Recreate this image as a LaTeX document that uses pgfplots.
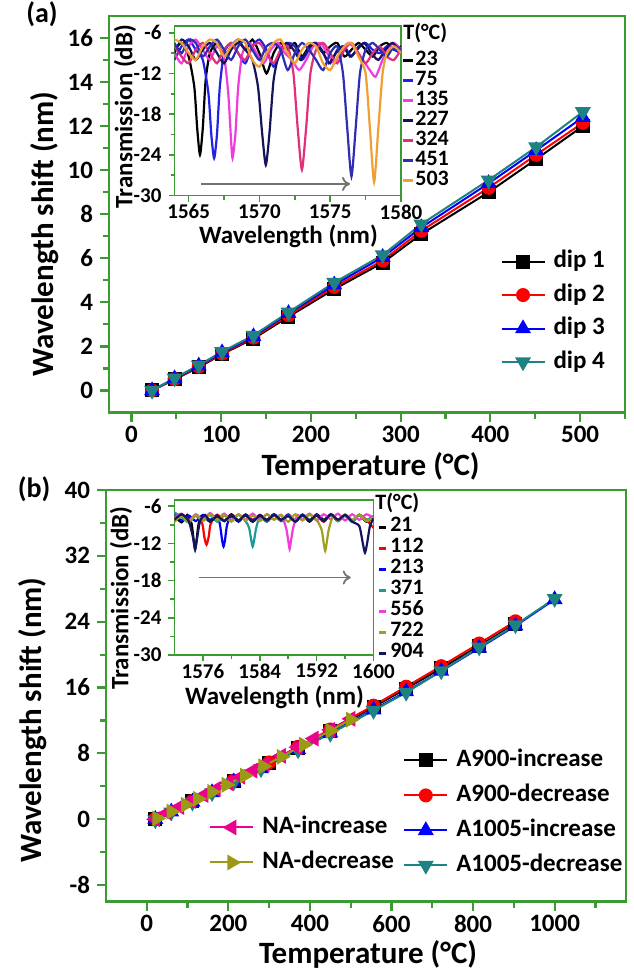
\documentclass[border=0pt]{standalone}
\usepackage{fontspec}
\setmainfont{Carlito}
\usepackage{pgfplots}
\pgfplotsset{compat=1.18}
\usetikzlibrary{arrows.meta}
\definecolor{frame}{HTML}{3C9A32}
\definecolor{dteal}{HTML}{1E8282}
\definecolor{dolive}{HTML}{9A9A14}
\definecolor{cblue}{HTML}{2222E6}
\definecolor{cmag}{HTML}{F03CDC}
\definecolor{cnavy}{HTML}{14145A}
\definecolor{ccrim}{HTML}{E0307A}
\definecolor{cblue2}{HTML}{2E2EB4}
\definecolor{corange}{HTML}{F0A032}
\definecolor{cteal}{HTML}{1E9A96}
\definecolor{colive}{HTML}{A0A020}

\pgfplotsset{
  mainax/.style={
    scale only axis, axis background/.style={fill=white},
    axis line style={draw=frame, line width=1.1bp},
    tick style={draw=frame, line width=1.1bp},
    tick align=outside, tick pos=left,
    major tick length=4.5bp, minor tick length=3bp,
    /pgf/number format/assume math mode=true,
    /pgf/number format/1000 sep={},
    tick label style={font=\fontsize{12.5bp}{14bp}\selectfont\bfseries},
    xticklabel style={yshift=1bp},
    label style={font=\fontsize{15.5bp}{17bp}\selectfont\bfseries},
    legend cell align=left,
    legend style={draw=none, fill=none, inner sep=0pt,
      font=\fontsize{12.5bp}{14bp}\selectfont\bfseries,
      nodes={inner sep=0pt, text height=9bp, text depth=3bp},
      /tikz/every odd column/.append style={column sep=4bp}},
    legend image code/.code={\draw[mark repeat=2,mark phase=2,#1]
      plot coordinates {(0bp,0bp)(10.75bp,0bp)(21.5bp,0bp)};},
  },
  insetax/.style={
    scale only axis, axis background/.style={fill=white},
    axis line style={draw=frame, line width=0.8bp},
    tick style={draw=frame, line width=0.8bp},
    tick align=outside, tick pos=left,
    major tick length=3bp, minor tick length=2bp,
    clip mode=individual,
    /pgf/number format/assume math mode=true,
    /pgf/number format/1000 sep={},
    tick label style={font=\fontsize{10.5bp}{12bp}\selectfont\bfseries},
    xticklabel style={yshift=2bp},
    label style={font=\fontsize{12.5bp}{14bp}\selectfont\bfseries},
    legend cell align=left,
    legend style={draw=none, fill=none, inner sep=0pt,
      font=\fontsize{11bp}{12bp}\selectfont\bfseries},
    every axis plot/.append style={line width=1.1bp, smooth, tension=0.4},
  },
  s1/.style={black, line width=1bp, mark=square*, mark size=3bp, mark options={solid, fill=black}},
  s2/.style={red, line width=1bp, mark=*, mark size=3bp, mark options={solid, fill=red}},
  s3/.style={blue, line width=1bp, mark=triangle*, mark size=3.6bp, mark options={solid, fill=blue}},
  s4/.style={dteal, line width=1bp, mark=triangle*, mark size=3.6bp, mark options={solid, fill=dteal, rotate=180}},
  s5/.style={magenta, line width=1bp, mark=triangle*, mark size=3.6bp, mark options={solid, fill=magenta, rotate=90}},
  s6/.style={dolive, line width=1bp, mark=triangle*, mark size=3.6bp, mark options={solid, fill=dolive, rotate=-90}},
}

\begin{document}
\begin{tikzpicture}
\useasboundingbox (0,0) rectangle (317bp,-485.5bp);

% ---------------- panel (a)
\begin{axis}[mainax, at={(54.5bp,-206.25bp)}, anchor=south west,
  width=258bp, height=198.25bp,
  xmin=-25, xmax=550, ymin=-1, ymax=17,
  xtick={0,100,...,500}, minor xtick={50,150,...,550},
  ytick={0,2,...,16}, minor ytick={1,3,...,15},
  xlabel={Temperature (°C)}, ylabel={Wavelength shift (nm)},
  xlabel style={at={(axis description cs:0.507,-0.137)}, anchor=center},
  ylabel style={at={(axis description cs:-0.124,0.45)}, anchor=center},
  legend style={at={(0.758,0.412)}, anchor=north west, row sep=4.75bp}]
\addplot[s1] coordinates {(23,0) (48,0.5) (75,1.05) (101,1.65) (136,2.35) (175,3.35) (226,4.6) (280,5.8) (323,7.1) (398,9.0) (451,10.5) (503,12.0)};
\addplot[s2] coordinates {(23,0) (48,0.52) (75,1.08) (101,1.68) (136,2.4) (175,3.42) (226,4.7) (280,5.9) (323,7.25) (398,9.2) (451,10.7) (503,12.15)};
\addplot[s3] coordinates {(23,0) (48,0.54) (75,1.12) (101,1.72) (136,2.45) (175,3.5) (226,4.8) (280,6.05) (323,7.4) (398,9.4) (451,10.9) (503,12.4)};
\addplot[s4] coordinates {(23,0) (48,0.56) (75,1.15) (101,1.76) (136,2.5) (175,3.55) (226,4.9) (280,6.15) (323,7.55) (398,9.55) (451,11.05) (503,12.65)};
\legend{dip 1, dip 2, dip 3, dip 4}
\end{axis}

% inset (a)
\begin{axis}[insetax, at={(87.25bp,-97.75bp)}, anchor=south west,
  width=113.25bp, height=84.75bp,
  xmin=1564, xmax=1580, ymin=-30, ymax=-5,
  xtick={1565,1570,1575,1580}, minor xtick={1567.5,1572.5,1577.5},
  ytick={-30,-24,...,-6}, minor ytick={-27,-21,...,-9},
  xlabel={Wavelength (nm)}, ylabel={Transmission (dB)},
  xlabel style={at={(axis description cs:0.503,-0.238)}, anchor=center},
  ylabel style={at={(axis description cs:-0.2185,0.466)}, anchor=center},
  legend style={at={(1.0,0.858)}, anchor=north west,
    nodes={inner sep=0pt, text height=7.3bp, text depth=2.7bp},
    /tikz/every odd column/.append style={column sep=0.6bp}},
  legend image code/.code={\draw[#1, line width=1.4bp] (0bp,0bp) -- (5bp,0bp);}]
\addplot[black] coordinates {(1564.0,-8.5) (1564.5,-7.5) (1565.0,-9.5) (1565.4,-14) (1565.6,-20) (1565.8,-24) (1566.0,-20) (1566.2,-13) (1566.5,-9) (1567.0,-7.5) (1567.5,-9.5) (1568.0,-8) (1568.5,-7) (1569.0,-8.5) (1569.5,-7) (1570.0,-9) (1570.5,-12) (1571.0,-9) (1571.5,-7.5) (1572.0,-8.5) (1572.5,-7.5) (1573.0,-9.5) (1573.5,-8) (1574.0,-7.5) (1574.5,-9) (1575.0,-8) (1575.5,-7.5) (1576.0,-9.5) (1576.5,-8.5) (1577.0,-7.5) (1577.5,-8.5) (1578.0,-9.5) (1578.5,-8) (1579.0,-7.5) (1579.5,-8.5) (1580.0,-8)};
\addplot[cblue] coordinates {(1564.0,-10) (1564.5,-8) (1565.0,-7) (1565.5,-8.5) (1566.0,-10) (1566.4,-15) (1566.6,-21) (1566.8,-24.5) (1567.0,-21) (1567.2,-14) (1567.5,-9) (1568.0,-7.5) (1568.5,-9) (1569.0,-10.5) (1569.5,-8) (1570.0,-7) (1570.5,-8.5) (1571.0,-11) (1571.5,-9) (1572.0,-7.5) (1572.5,-8) (1573.0,-10) (1573.5,-8.5) (1574.0,-7.5) (1574.5,-9) (1575.0,-10.5) (1575.5,-8.5) (1576.0,-8) (1576.5,-9.5) (1577.0,-8) (1577.5,-7.5) (1578.0,-8.5) (1578.5,-9) (1579.0,-8) (1579.5,-8.5) (1580.0,-9)};
\addplot[cmag] coordinates {(1564.0,-9) (1564.5,-10.5) (1565.0,-8) (1565.5,-7) (1566.0,-8.5) (1566.5,-10) (1567.0,-8) (1567.5,-9.5) (1567.8,-15) (1568.0,-22) (1568.1,-24.5) (1568.3,-21) (1568.5,-14) (1568.8,-9) (1569.3,-7.5) (1569.8,-9) (1570.3,-10.5) (1570.8,-8.5) (1571.3,-7.5) (1571.8,-9) (1572.3,-10) (1572.8,-11.5) (1573.3,-10) (1573.8,-8) (1574.3,-7.5) (1574.8,-9) (1575.3,-10.5) (1575.8,-8.5) (1576.3,-7.5) (1576.8,-8.5) (1577.3,-10) (1577.8,-11.5) (1578.2,-12.5) (1578.6,-10.5) (1579.0,-8.5) (1579.5,-7.5) (1580.0,-8.5)};
\addplot[cnavy] coordinates {(1564.0,-9) (1564.5,-7) (1565.0,-8) (1565.5,-10) (1566.0,-8.5) (1566.5,-7.5) (1567.0,-9) (1567.5,-10.5) (1568.0,-8.5) (1568.5,-7.5) (1569.0,-8.5) (1569.5,-10) (1569.9,-14) (1570.2,-21) (1570.45,-25.5) (1570.7,-21) (1571.0,-13) (1571.4,-9) (1571.9,-7.5) (1572.4,-8.5) (1572.9,-10) (1573.4,-8.5) (1573.9,-7.5) (1574.4,-8.5) (1574.9,-10.5) (1575.4,-9) (1575.9,-8) (1576.4,-9.5) (1576.9,-8.5) (1577.4,-7.5) (1577.9,-9) (1578.4,-10) (1578.9,-8.5) (1579.4,-7.5) (1580.0,-9)};
\addplot[ccrim] coordinates {(1564.0,-8) (1564.5,-9.5) (1565.0,-10.5) (1565.5,-8.5) (1566.0,-7.5) (1566.5,-9) (1567.0,-10.5) (1567.5,-8.5) (1568.0,-7.5) (1568.5,-9) (1569.0,-10) (1569.5,-8) (1570.0,-7.5) (1570.5,-9) (1571.0,-10.5) (1571.5,-8.5) (1572.0,-8) (1572.4,-12) (1572.7,-20) (1573.0,-26.2) (1573.3,-20) (1573.6,-12) (1574.0,-8.5) (1574.5,-7.5) (1575.0,-9) (1575.5,-10.5) (1576.0,-8.5) (1576.5,-7.5) (1577.0,-9) (1577.5,-10.5) (1578.0,-9) (1578.5,-8) (1579.0,-9.5) (1579.5,-10) (1580.0,-8.5)};
\addplot[cblue2] coordinates {(1564.0,-7.5) (1564.5,-9) (1565.0,-7) (1565.5,-7.5) (1566.0,-9.5) (1566.5,-8) (1567.0,-7) (1567.5,-8.5) (1568.0,-10) (1568.5,-8) (1569.0,-7) (1569.5,-8.5) (1570.0,-10) (1570.5,-8) (1571.0,-7.5) (1571.5,-8.5) (1572.0,-11.5) (1572.5,-9) (1573.0,-7.5) (1573.5,-8.5) (1574.0,-10) (1574.5,-11.5) (1575.0,-9) (1575.5,-8) (1575.9,-12) (1576.2,-20) (1576.5,-27.2) (1576.8,-20) (1577.1,-12) (1577.5,-8.5) (1578.0,-7.5) (1578.5,-8.5) (1579.0,-9.5) (1579.5,-8) (1580.0,-8.5)};
\addplot[corange] coordinates {(1564.0,-7) (1564.5,-7.5) (1565.0,-9) (1565.5,-10) (1566.0,-8) (1566.5,-7) (1567.0,-7.5) (1567.5,-9.5) (1568.0,-8) (1568.5,-7) (1569.0,-7.5) (1569.5,-10) (1570.0,-11) (1570.5,-9) (1571.0,-7.5) (1571.5,-7) (1572.0,-9) (1572.5,-10.5) (1573.0,-8.5) (1573.5,-7.5) (1574.0,-8) (1574.5,-10.5) (1575.0,-11.5) (1575.5,-9.5) (1576.0,-8) (1576.5,-7.5) (1577.0,-9.5) (1577.5,-12) (1577.8,-20) (1578.1,-28) (1578.4,-20) (1578.7,-12) (1579.0,-9) (1579.5,-8) (1580.0,-9)};
\legend{23, 75, 135, 227, 324, 451, 503}
\draw[black!55, line width=0.9bp, -{To[length=4bp, width=7bp]}] (axis cs:1565.9,-28.3) -- (axis cs:1576.4,-28.3);
\node[anchor=west, inner sep=0pt, font=\fontsize{11bp}{12bp}\selectfont\bfseries] at (rel axis cs:1.009,0.959) {T(°C)};
\end{axis}

% ---------------- panel (b)
\begin{axis}[mainax, at={(53bp,-450.75bp)}, anchor=south west,
  width=260bp, height=205.75bp,
  xmin=-100, xmax=1175, ymin=-10, ymax=40,
  xtick={0,200,...,1000}, minor xtick={100,300,...,1100},
  ytick={-8,0,...,40}, minor ytick={-4,4,...,36},
  xlabel={Temperature (°C)}, ylabel={Wavelength shift (nm)},
  xlabel style={at={(axis description cs:0.504,-0.128)}, anchor=center},
  ylabel style={at={(axis description cs:-0.142,0.441)}, anchor=center},
  legend style={at={(0.571,0.373)}, anchor=north west, row sep=5.5bp}]
\addplot[s1] coordinates {(21,0) (112,2.16) (213,4.63) (300,6.8) (371,8.66) (450,10.75) (556,13.64) (636,15.87) (722,18.34) (815,21.07) (904,23.74)};
\addplot[s2] coordinates {(21,0.05) (112,2.2) (213,4.7) (300,6.9) (371,8.8) (450,10.9) (556,13.8) (636,16.1) (722,18.6) (815,21.35) (904,24.05)};
\addplot[s3] coordinates {(21,0) (60,0.9) (112,2.1) (160,3.25) (213,4.55) (280,6.15) (371,8.5) (450,10.5) (556,13.3) (636,15.5) (722,18.0) (815,20.8) (904,23.5) (1000,26.7)};
\addplot[s4] coordinates {(21,-0.1) (60,0.85) (112,2.05) (160,3.2) (213,4.5) (280,6.1) (371,8.4) (450,10.4) (556,13.2) (636,15.4) (722,18.0) (815,20.9) (904,23.6) (1000,26.8)};
\legend{A900-increase, A900-decrease, A1005-increase, A1005-decrease}
\end{axis}

\begin{axis}[mainax, hide axis, at={(53bp,-450.75bp)}, anchor=south west,
  width=260bp, height=205.75bp, axis background/.style={},
  xmin=-100, xmax=1175, ymin=-10, ymax=40,
  legend style={at={(0.198,0.21)}, anchor=north west, row sep=5.5bp}]
\addplot[s5] coordinates {(21,0) (50,0.78) (80,1.49) (110,2.22) (140,2.93) (170,3.67) (200,4.4) (230,5.15) (260,5.9) (290,6.67) (330,7.7) (370,8.74) (410,9.8) (450,10.85) (500,12.2)};
\addplot[s6] coordinates {(25,0.1) (60,0.92) (95,1.75) (125,2.47) (160,3.32) (195,4.18) (240,5.3) (285,6.43) (330,7.58) (385,9.05) (450,10.75) (500,12.1)};
\legend{NA-increase, NA-decrease}
\end{axis}

% inset (b)
\begin{axis}[insetax, at={(87.25bp,-327.5bp)}, anchor=south west,
  width=99.5bp, height=77.5bp,
  xmin=1572, xmax=1600, ymin=-30, ymax=-5,
  xtick={1576,1584,1592,1600}, minor xtick={1580,1588,1596},
  ytick={-30,-24,...,-6}, minor ytick={-27,-21,...,-9},
  xlabel={Wavelength (nm)}, ylabel={Transmission (dB)},
  xlabel style={at={(axis description cs:0.503,-0.275)}, anchor=center},
  ylabel style={at={(axis description cs:-0.269,0.368)}, anchor=center},
  legend style={at={(1.018,0.894)}, anchor=north west,
    nodes={inner sep=0pt, text height=7.5bp, text depth=3bp},
    /tikz/every odd column/.append style={column sep=1.5bp}},
  legend image code/.code={\draw[#1, line width=1.4bp] (0bp,0bp) -- (3.5bp,0bp);}]
\addplot[black] coordinates {(1572,-7.6) (1573,-8.6) (1573.8,-7.4) (1574.4,-8.8) (1574.7,-11.5) (1574.9,-12.9) (1575.1,-11.5) (1575.4,-8.8) (1576,-7.5) (1577,-8.5) (1578,-7.4) (1579,-8.4) (1580,-7.3) (1581,-8.3) (1582,-7.5) (1583,-8.5) (1584,-7.4) (1585,-8.2) (1586,-7.3) (1587,-8.4) (1588,-7.5) (1589,-8.3) (1590,-7.4) (1591,-8.5) (1592,-7.3) (1593,-8.2) (1594,-7.4) (1595,-8.4) (1596,-7.5) (1597,-8.3) (1598,-7.4) (1599,-8.5) (1600,-7.8)};
\addplot[red] coordinates {(1572,-8.2) (1573,-7.4) (1574,-8.5) (1575,-7.5) (1575.9,-8.8) (1576.2,-11) (1576.5,-12.2) (1576.8,-11) (1577.1,-8.8) (1578,-7.4) (1579,-8.3) (1580,-7.5) (1581,-8.4) (1582,-7.3) (1583,-8.2) (1584,-7.5) (1585,-8.5) (1586,-7.4) (1587,-8.3) (1588,-7.3) (1589,-8.4) (1590,-7.5) (1591,-8.2) (1592,-7.4) (1593,-8.5) (1594,-7.3) (1595,-8.3) (1596,-7.5) (1597,-8.4) (1598,-7.4) (1599,-8.2) (1600,-9.5)};
\addplot[blue] coordinates {(1572,-7.3) (1573,-8.3) (1574,-7.5) (1575,-8.4) (1576,-7.4) (1577,-8.2) (1578,-7.5) (1578.4,-9) (1578.7,-11.5) (1578.9,-12.5) (1579.1,-11.5) (1579.4,-9) (1580,-7.6) (1581,-8.5) (1582,-7.4) (1583,-8.3) (1584,-7.5) (1585,-8.4) (1586,-7.3) (1587,-8.2) (1588,-7.4) (1589,-8.5) (1590,-7.5) (1591,-8.3) (1592,-7.4) (1593,-8.4) (1594,-7.3) (1595,-8.2) (1596,-7.5) (1597,-8.5) (1598,-7.4) (1599,-8.3) (1600,-7.6)};
\addplot[cteal] coordinates {(1572,-7.0) (1573,-7.8) (1574,-8.6) (1575,-7.5) (1576,-8.3) (1577,-7.4) (1578,-8.5) (1579,-7.5) (1580,-8.2) (1581,-7.4) (1582,-8.4) (1582.5,-9.5) (1582.8,-11.5) (1583,-12.5) (1583.2,-11.5) (1583.5,-9.5) (1584,-7.8) (1585,-8.5) (1586,-7.4) (1587,-8.3) (1588,-7.5) (1589,-8.4) (1590,-7.3) (1591,-8.2) (1592,-7.5) (1593,-8.4) (1594,-7.4) (1595,-8.3) (1596,-7.5) (1597,-8.5) (1598,-7.4) (1599,-8.2) (1600,-7.6)};
\addplot[cmag] coordinates {(1572,-7.8) (1573,-7.2) (1574,-8.3) (1575,-7.3) (1576,-8.2) (1577,-7.1) (1578,-8.1) (1579,-7.2) (1580,-8.3) (1581,-7.3) (1582,-8.2) (1583,-7.2) (1584,-8.3) (1585,-7.3) (1586,-8.1) (1587,-7.4) (1587.7,-9.5) (1588,-11.5) (1588.2,-12.9) (1588.4,-11.5) (1588.7,-9.5) (1589.3,-7.4) (1590,-8.2) (1591,-7.2) (1592,-8.3) (1593,-7.3) (1594,-8.1) (1595,-7.2) (1596,-8.3) (1597,-7.3) (1598,-8.2) (1599,-7.3) (1600,-7.9)};
\addplot[colive] coordinates {(1572,-8.5) (1573,-7.6) (1574,-8.6) (1575,-7.4) (1576,-8.4) (1577,-7.3) (1578,-8.2) (1579,-7.4) (1580,-8.5) (1581,-7.3) (1582,-8.3) (1583,-7.5) (1584,-8.4) (1585,-7.3) (1586,-8.2) (1587,-7.4) (1588,-8.5) (1589,-7.3) (1590,-8.3) (1591,-7.4) (1592,-8.2) (1592.7,-9.8) (1593,-12) (1593.2,-13.2) (1593.4,-12) (1593.7,-9.8) (1594.3,-7.6) (1595,-8.4) (1596,-7.3) (1597,-8.2) (1598,-7.4) (1599,-8.4) (1600,-7.8)};
\addplot[cnavy] coordinates {(1572,-8.2) (1573,-7.3) (1574,-8.4) (1574.6,-11) (1574.9,-13) (1575.2,-11) (1575.6,-8.4) (1576.3,-7.4) (1577,-8.5) (1578,-7.6) (1579,-8.4) (1580,-7.5) (1581,-8.3) (1582,-7.4) (1583,-8.5) (1584,-7.5) (1585,-8.3) (1586,-7.4) (1587,-8.2) (1588,-7.6) (1589,-8.5) (1590,-7.4) (1591,-8.3) (1592,-7.5) (1593,-8.4) (1594,-7.3) (1595,-8.2) (1596,-7.4) (1597,-8.5) (1598,-9.2) (1598.5,-12) (1598.8,-13.5) (1599.1,-12) (1599.5,-9.2) (1600,-8)};
\legend{21, 112, 213, 371, 556, 722, 904}
\draw[black!55, line width=0.9bp, -{To[length=4bp, width=7bp]}] (axis cs:1575.5,-17.5) -- (axis cs:1596.8,-17.5);
\node[anchor=west, inner sep=0pt, font=\fontsize{11bp}{12bp}\selectfont\bfseries] at (rel axis cs:1.008,0.98) {T(°C)};
\end{axis}

\node[font=\fontsize{14bp}{16bp}\selectfont\bfseries] at (21bp,-7bp) {(a)};
\node[font=\fontsize{14bp}{16bp}\selectfont\bfseries] at (17bp,-244.5bp) {(b)};
\end{tikzpicture}
\end{document}
